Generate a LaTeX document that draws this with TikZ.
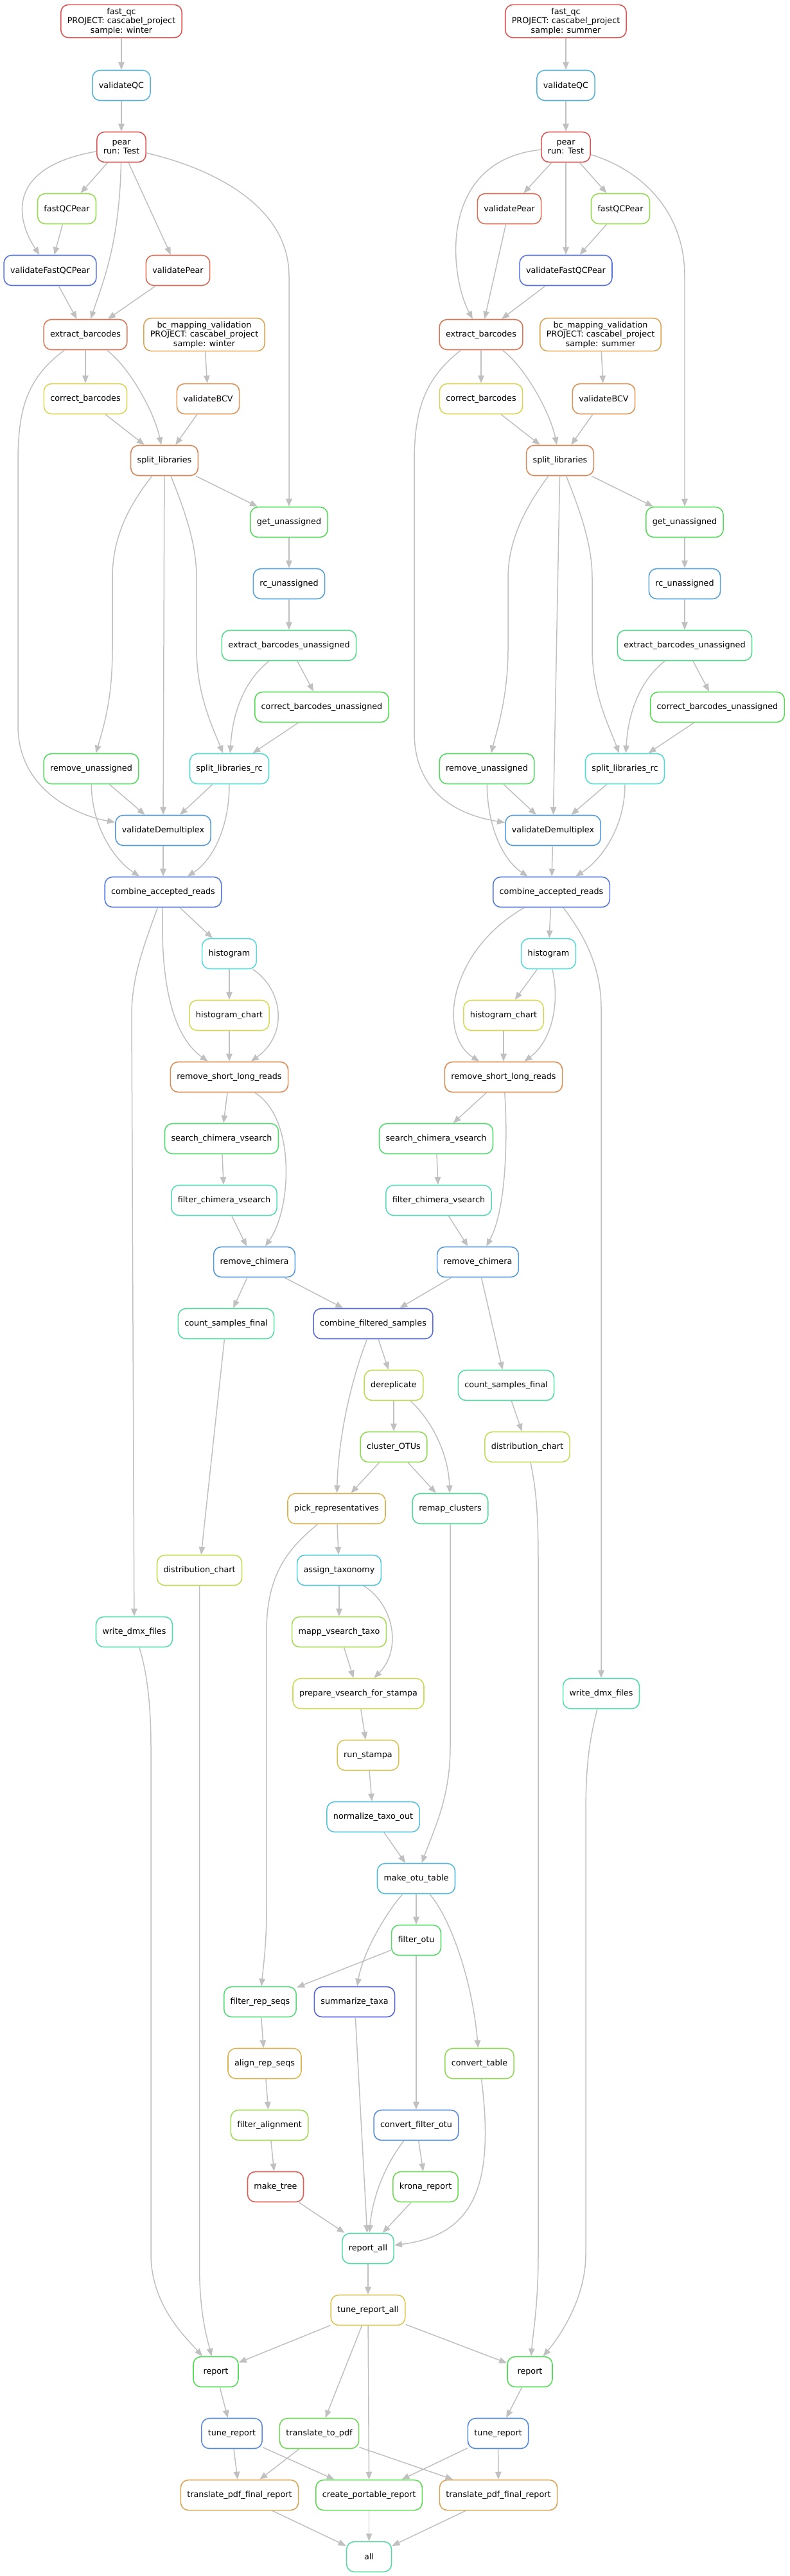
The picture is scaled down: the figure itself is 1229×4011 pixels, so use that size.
\PassOptionsToPackage{rgb}{xcolor}
\documentclass[tikz,border=0pt]{standalone}
\usepackage{fontspec}
\setmainfont{DejaVu Sans}
\usetikzlibrary{arrows.meta,positioning}
\definecolor{edgegray}{RGB}{192,192,192}

\begin{document}
\begin{tikzpicture}[x=1pt,y=1pt,node distance=96pt,on grid,
    job/.style={/utils/exec={\definecolor{jobclr}{hsb}{#1,0.6,0.85}},draw=jobclr,
      line width=1.6pt,rounded corners=12pt,minimum height=47pt,minimum width=70pt,
      inner xsep=10pt,inner ysep=5pt,align=center,font=\fontsize{12.75}{14.5}\selectfont},
    every edge/.style={draw=edgegray,line width=1.5pt},
    dep/.style={draw=edgegray,line width=1.5pt,->},
    >={Triangle[length=12pt,width=9.5pt]}]
    \useasboundingbox (0,0) rectangle (1229,-4011);
    % winter
    \node[job=0.00] (fqcW) at (189,-33) {fast\_qc\\PROJECT: cascabel\_project\\sample: winter};
    \node[job=0.55] (vqcW) at (189,-133) {validateQC};
    \node[job=0.00] (pearW) [below=of vqcW] {pear\\run: Test};
    \node[job=0.25] (fqpW) at (104,-325) {fastQCPear};
    \node[job=0.63] (vfqpW) at (78,-421) {validateFastQCPear};
    \node[job=0.03] (vpW) at (277,-421) {validatePear};
    \node[job=0.04] (ebW) at (133,-521) {extract\_barcodes};
    \node[job=0.10] (bcW) at (318,-521) {bc\_mapping\_validation\\PROJECT: cascabel\_project\\sample: winter};
    \node[job=0.16] (cbW) at (133,-621) {correct\_barcodes};
    \node[job=0.08] (vbcvW) at (324,-621) {validateBCV};
    \node[job=0.06] (slW) at (256,-717) {split\_libraries};
    \node[job=0.34] (guW) at (450,-813) {get\_unassigned};
    \node[job=0.57] (rcuW) [below=of guW] {rc\_unassigned};
    \node[job=0.40] (ebuW) [below=of rcuW] {extract\_barcodes\_unassigned};
    \node[job=0.33] (cbuW) at (501,-1101) {correct\_barcodes\_unassigned};
    \node[job=0.35] (ruW) at (142,-1197) {remove\_unassigned};
    \node[job=0.49] (slrcW) at (357,-1197) {split\_libraries\_rc};
    \node[job=0.58] (vdmW) at (254,-1293) {validateDemultiplex};
    \node[job=0.62] (carW) at (254,-1389) {combine\_accepted\_reads};
    \node[job=0.50] (histW) at (357,-1485) {histogram};
    \node[job=0.17] (hcW) [below=of histW] {histogram\_chart};
    \node[job=0.07] (rslrW) [below=of hcW] {remove\_short\_long\_reads};
    \node[job=0.37] (scvW) at (345,-1773) {search\_chimera\_vsearch};
    \node[job=0.46] (fcvW) at (349,-1869) {filter\_chimera\_vsearch};
    \node[job=0.58] (rchW) at (396,-1965) {remove\_chimera};
    \node[job=0.43] (csfW) at (352,-2061) {count\_samples\_final};
    \node[job=0.19] (dcW) at (310.6,-2445) {distribution\_chart};
    \node[job=0.45] (wdW) at (209,-2541) {write\_dmx\_files};
    \node[job=0.34] (repW) at (336,-3693) {report};
    \node[job=0.60] (trW) at (361,-3789) {tune\_report};
    \node[job=0.10] (tpfrW) at (373,-3885) {translate\_pdf\_final\_report};
    % summer
    \node[job=0.00] (fqcS) at (881,-33) {fast\_qc\\PROJECT: cascabel\_project\\sample: summer};
    \node[job=0.55] (vqcS) at (881,-133) {validateQC};
    \node[job=0.00] (pearS) [below=of vqcS] {pear\\run: Test};
    \node[job=0.03] (vpS) at (793,-325) {validatePear};
    \node[job=0.25] (fqpS) at (966,-325) {fastQCPear};
    \node[job=0.63] (vfqpS) at (881,-421) {validateFastQCPear};
    \node[job=0.04] (ebS) at (749,-521) {extract\_barcodes};
    \node[job=0.10] (bcS) at (935,-521) {bc\_mapping\_validation\\PROJECT: cascabel\_project\\sample: summer};
    \node[job=0.16] (cbS) at (749,-621) {correct\_barcodes};
    \node[job=0.08] (vbcvS) at (940,-621) {validateBCV};
    \node[job=0.06] (slS) at (872,-717) {split\_libraries};
    \node[job=0.34] (guS) at (1066,-813) {get\_unassigned};
    \node[job=0.57] (rcuS) [below=of guS] {rc\_unassigned};
    \node[job=0.40] (ebuS) [below=of rcuS] {extract\_barcodes\_unassigned};
    \node[job=0.33] (cbuS) at (1117,-1101) {correct\_barcodes\_unassigned};
    \node[job=0.35] (ruS) at (758,-1197) {remove\_unassigned};
    \node[job=0.49] (slrcS) at (973,-1197) {split\_libraries\_rc};
    \node[job=0.58] (vdmS) at (861,-1293) {validateDemultiplex};
    \node[job=0.62] (carS) at (858.5,-1389) {combine\_accepted\_reads};
    \node[job=0.50] (histS) at (854,-1485) {histogram};
    \node[job=0.17] (hcS) at (784,-1581) {histogram\_chart};
    \node[job=0.07] (rslrS) [below=of hcS] {remove\_short\_long\_reads};
    \node[job=0.37] (scvS) at (679,-1773) {search\_chimera\_vsearch};
    \node[job=0.46] (fcvS) at (683,-1869) {filter\_chimera\_vsearch};
    \node[job=0.58] (rchS) at (744,-1965) {remove\_chimera};
    \node[job=0.43] (csfS) at (788,-2157) {count\_samples\_final};
    \node[job=0.19] (dcS) at (821,-2253) {distribution\_chart};
    \node[job=0.45] (wdS) at (936,-2637) {write\_dmx\_files};
    \node[job=0.34] (repS) at (825,-3693) {report};
    \node[job=0.60] (trS) at (775.6,-3789) {tune\_report};
    \node[job=0.10] (tpfrS) at (776,-3885) {translate\_pdf\_final\_report};
    % both samples
    \node[job=0.64] (cfs) at (581,-2061) {combine\_filtered\_samples};
    \node[job=0.20] (derep) at (613,-2157) {dereplicate};
    \node[job=0.26] (cotu) [below=of derep] {cluster\_OTUs};
    \node[job=0.12] (pick) at (524,-2349) {pick\_representatives};
    \node[job=0.42] (remap) at (701,-2349) {remap\_clusters};
    \node[job=0.52] (taxo) at (528,-2445) {assign\_taxonomy};
    \node[job=0.23] (mapp) [below=of taxo] {mapp\_vsearch\_taxo};
    \node[job=0.18] (prep) at (558,-2637) {prepare\_vsearch\_for\_stampa};
    \node[job=0.14] (stampa) at (573,-2733) {run\_stampa};
    \node[job=0.53] (norm) at (581,-2829) {normalize\_taxo\_out};
    \node[job=0.54] (otu) at (648,-2925) {make\_otu\_table};
    \node[job=0.36] (fotu) [below=of otu] {filter\_otu};
    \node[job=0.38] (frs) at (405,-3117) {filter\_rep\_seqs};
    \node[job=0.65] (summ) at (552,-3117) {summarize\_taxa};
    \node[job=0.12] (align) at (412,-3213) {align\_rep\_seqs};
    \node[job=0.26] (ctab) at (746.5,-3213) {convert\_table};
    \node[job=0.24] (falign) at (419.6,-3309) {filter\_alignment};
    \node[job=0.60] (cfo) at (648,-3309) {convert\_filter\_otu};
    \node[job=0.01] (tree) at (429,-3405) {make\_tree};
    \node[job=0.30] (krona) at (662.6,-3405) {krona\_report};
    \node[job=0.44] (rall) at (573,-3501) {report\_all};
    \node[job=0.14] (tall) [below=of rall] {tune\_report\_all};
    \node[job=0.30] (ttp) at (497,-3789) {translate\_to\_pdf};
    \node[job=0.32] (cpr) at (574.6,-3885) {create\_portable\_report};
    \node[job=0.43] (all) [below=of cpr] {all};

    \path[->]
    (fqcW) edge (vqcW)
    (vqcW) edge (pearW)
    (pearW) edge (fqpW)
            edge (vpW)
    (fqpW) edge (vfqpW)
    (vfqpW) edge (ebW)
    (vpW) edge (ebW)
    (ebW) edge (cbW)
    (bcW) edge (vbcvW)
    (cbW) edge (slW)
    (vbcvW) edge (slW)
    (slW) edge (guW)
          edge (vdmW)
    (guW) edge (rcuW)
    (rcuW) edge (ebuW)
    (ebuW) edge (cbuW)
    (cbuW) edge (slrcW)
    (ruW) edge (vdmW)
    (slrcW) edge (vdmW)
    (vdmW) edge (carW)
    (carW) edge (histW)
    (histW) edge (hcW)
    (hcW) edge (rslrW)
    (rslrW) edge (scvW)
    (scvW) edge (fcvW)
    (fcvW) edge (rchW)
    (rchW) edge (csfW)
           edge (cfs)
    (csfW) edge (dcW)
    (repW) edge (trW)
    (trW) edge (tpfrW)
          edge (cpr)
    (tpfrW) edge (all)
    (fqcS) edge (vqcS)
    (vqcS) edge (pearS)
    (pearS) edge (vpS)
            edge (fqpS)
            edge (vfqpS)
    (fqpS) edge (vfqpS)
    (vpS) edge (ebS)
    (vfqpS) edge (ebS)
    (ebS) edge (cbS)
    (bcS) edge (vbcvS)
    (cbS) edge (slS)
    (vbcvS) edge (slS)
    (slS) edge (guS)
          edge (vdmS)
    (guS) edge (rcuS)
    (rcuS) edge (ebuS)
    (ebuS) edge (cbuS)
    (cbuS) edge (slrcS)
    (ruS) edge (vdmS)
    (slrcS) edge (vdmS)
    (vdmS) edge (carS)
    (carS) edge (histS)
    (histS) edge (hcS)
    (hcS) edge (rslrS)
    (rslrS) edge (scvS)
    (scvS) edge (fcvS)
    (fcvS) edge (rchS)
    (rchS) edge (cfs)
           edge (csfS)
    (csfS) edge (dcS)
    (repS) edge (trS)
    (trS) edge (cpr)
          edge (tpfrS)
    (tpfrS) edge (all)
    (cfs) edge (derep)
    (derep) edge (cotu)
    (cotu) edge (pick)
           edge (remap)
    (pick) edge (taxo)
    (taxo) edge (mapp)
    (mapp) edge (prep)
    (prep) edge (stampa)
    (stampa) edge (norm)
    (norm) edge (otu)
    (otu) edge (fotu)
    (fotu) edge (frs)
           edge (cfo)
    (frs) edge (align)
    (summ) edge (rall)
    (align) edge (falign)
    (falign) edge (tree)
    (cfo) edge (krona)
    (tree) edge (rall)
    (krona) edge (rall)
    (rall) edge (tall)
    (tall) edge (repW)
           edge (repS)
           edge (ttp)
           edge (cpr)
    (ttp) edge (tpfrW)
          edge (tpfrS)
    (cpr) edge (all)
    ;

    % winter curves
    \draw[dep] (pearW) .. controls (0,-262) and (30,-350) .. (vfqpW);
    \draw[dep] (pearW) .. controls (186,-380) and (160,-440) .. (ebW);
    \draw[dep] (pearW) .. controls (330,-262) and (450,-320) .. (450,-430) -- (guW);
    \draw[dep] (ebW) .. controls (200,-570) and (240,-640) .. (slW);
    \draw[dep] (ebW) .. controls (40,-590) and (28,-640) .. (28,-720) -- (28,-1130)
        .. controls (28,-1230) and (120,-1270) .. (vdmW);
    \draw[dep] (slW) .. controls (190,-800) and (175,-850) .. (175,-900) -- (175,-1010)
        .. controls (175,-1080) and (165,-1120) .. (ruW);
    \draw[dep] (slW) .. controls (290,-800) and (306,-850) .. (306,-900) -- (306,-1010)
        .. controls (306,-1080) and (330,-1130) .. (slrcW);
    \draw[dep] (ebuW) .. controls (380,-1060) and (362,-1110) .. (slrcW);
    \draw[dep] (ruW) .. controls (143,-1290) and (180,-1340) .. (carW);
    \draw[dep] (slrcW) .. controls (357,-1290) and (330,-1340) .. (carW);
    \draw[dep] (carW) .. controls (225,-1470) and (205,-1520) .. (205,-1580) -- (wdW);
    \draw[dep] (carW) .. controls (250,-1520) and (265,-1610) .. (rslrW);
    \draw[dep] (histW) .. controls (440,-1540) and (450,-1610) .. (rslrW);
    \draw[dep] (rslrW) .. controls (460,-1740) and (455,-1880) .. (rchW);
    \draw[dep] (dcW) -- (310.6,-3530) .. controls (310.6,-3600) and (322,-3640) .. (repW);
    \draw[dep] (wdW) .. controls (228,-2600) and (235,-2650) .. (235,-2720) -- (235,-3510)
        .. controls (235,-3590) and (290,-3640) .. (repW);
    % summer curves
    \draw[dep] (pearS) .. controls (680,-250) and (700,-430) .. (ebS);
    \draw[dep] (pearS) .. controls (1000,-265) and (1066,-330) .. (1066,-430) -- (guS);
    \draw[dep] (ebS) .. controls (816,-570) and (856,-640) .. (slS);
    \draw[dep] (ebS) .. controls (660,-590) and (645,-640) .. (645,-720) -- (645,-1140)
        .. controls (645,-1240) and (720,-1270) .. (vdmS);
    \draw[dep] (slS) .. controls (810,-800) and (791,-850) .. (791,-900) -- (791,-1010)
        .. controls (791,-1080) and (776,-1130) .. (ruS);
    \draw[dep] (slS) .. controls (905,-800) and (922,-850) .. (922,-900) -- (922,-1010)
        .. controls (922,-1080) and (948,-1130) .. (slrcS);
    \draw[dep] (ebuS) .. controls (996,-1060) and (978,-1110) .. (slrcS);
    \draw[dep] (ruS) .. controls (759,-1290) and (784.5,-1340) .. (carS);
    \draw[dep] (slrcS) .. controls (973,-1290) and (934.5,-1340) .. (carS);
    \draw[dep] (carS) .. controls (905,-1450) and (936,-1500) .. (936,-1570) -- (wdS);
    \draw[dep] (carS) .. controls (700,-1480) and (680,-1610) .. (rslrS);
    \draw[dep] (histS) .. controls (872,-1560) and (860,-1620) .. (rslrS);
    \draw[dep] (rslrS) .. controls (790,-1760) and (790,-1880) .. (rchS);
    \draw[dep] (dcS) .. controls (835,-2320) and (838,-2360) .. (838,-2430) -- (838,-3510)
        .. controls (838,-3590) and (830,-3630) .. (repS);
    \draw[dep] (wdS) .. controls (915,-2720) and (912,-2760) .. (912,-2830) -- (912,-3510)
        .. controls (912,-3580) and (870,-3640) .. (repS);
    % shared curves
    \draw[dep] (cfs) .. controls (550,-2140) and (527,-2230) .. (pick);
    \draw[dep] (derep) .. controls (670,-2210) and (698,-2260) .. (remap);
    \draw[dep] (pick) .. controls (450,-2410) and (415,-2450) .. (415,-2540) -- (415,-2970)
        .. controls (415,-3030) and (410,-3060) .. (frs);
    \draw[dep] (taxo) .. controls (615,-2500) and (625,-2570) .. (prep);
    \draw[dep] (remap) -- (701,-2720) .. controls (701,-2800) and (675,-2850) .. (otu);
    \draw[dep] (otu) .. controls (600,-2980) and (565,-3040) .. (summ);
    \draw[dep] (otu) .. controls (700,-2985) and (735,-3080) .. (ctab);
    \draw[dep] (ctab) .. controls (770,-3400) and (740,-3480) .. (rall);
    \draw[dep] (cfo) .. controls (600,-3370) and (580,-3420) .. (rall);
\end{tikzpicture}
\end{document}
